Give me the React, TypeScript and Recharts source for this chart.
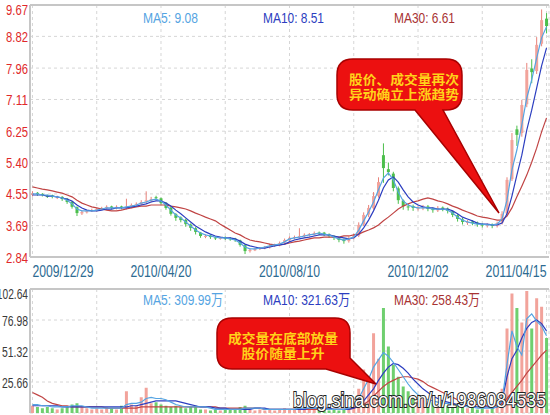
import React from "react";
import { Bar, CartesianGrid, Cell, ComposedChart, Line, ReferenceLine, XAxis, YAxis } from "recharts";

// tick labels / axes
const tickIndex = [0, 26, 52, 78, 104];
const dateLabels = ["2009/12/29", "2010/04/20", "2010/08/10", "2010/12/02", "2011/04/15"];
const gridIndex = [0, 13, 26, 39, 52, 65, 78, 91, 104];
const priceTicks = [2.84, 3.69, 4.55, 5.4, 6.25, 7.11, 7.96, 8.82, 9.67];
const volTicks = [0, 25.66, 51.32, 76.98, 102.64];

// daily k-line (sampled)
const open = [4.52,4.58,4.55,4.50,4.51,4.45,4.47,4.42,4.34,4.19, 4.02,4.05,4.10,4.10,4.15,4.16,4.21,4.16,4.21,4.16, 4.19,4.26,4.27,4.34,4.36,4.46,4.43,4.31,4.18,4.00, 3.91,3.85,3.72,3.62,3.50,3.40,3.42,3.37,3.35,3.37, 3.35,3.34,3.29,3.16,3.00,3.02,3.07,3.09,3.10,3.15, 3.16,3.23,3.29,3.37,3.39,3.40,3.45,3.45,3.50,3.50, 3.45,3.40,3.35,3.31,3.27,3.35,3.42,3.72,3.99,4.16, 4.50,5.60,5.22,5.10,4.70,4.37,4.21,4.22,4.16,4.16, 4.21,4.15,4.10,4.18,4.15,4.08,3.97,3.86,3.78,3.80, 3.77,3.72,3.70,3.72,3.68,3.77,4.02,4.95,6.30,6.20, 6.98,7.95,7.88,8.62,9.30];
const high = [4.62,4.60,4.57,4.53,4.53,4.50,4.49,4.44,4.36,4.21, 4.10,4.12,4.15,4.17,4.20,4.24,4.23,4.24,4.23,4.42, 4.29,4.32,4.38,4.62,4.47,4.50,4.45,4.33,4.20,4.03, 3.94,3.88,3.75,3.65,3.52,3.45,3.44,3.40,3.39,3.40, 3.38,3.36,3.31,3.18,3.07,3.09,3.11,3.14,3.20,3.20, 3.26,3.34,3.40,3.42,3.62,3.48,3.49,3.53,3.53,3.52, 3.48,3.43,3.38,3.34,3.40,3.47,3.78,4.05,4.25,4.60, 5.00,5.92,5.40,5.15,4.75,4.40,4.28,4.26,4.22,4.25, 4.25,4.18,4.22,4.21,4.18,4.10,4.00,3.90,3.84,3.84, 3.80,3.76,3.75,3.75,3.80,4.08,5.00,6.20,6.40,7.10, 8.10,8.20,8.80,9.55,9.45];
const low = [4.48,4.50,4.48,4.44,4.43,4.41,4.36,4.28,4.15,3.95, 3.98,4.02,4.06,4.07,4.12,4.13,4.13,4.13,4.13,4.13, 4.16,4.22,4.24,4.30,4.32,4.38,4.26,4.12,3.96,3.82, 3.78,3.66,3.55,3.45,3.36,3.35,3.33,3.30,3.31,3.30, 3.28,3.25,3.12,2.92,2.96,3.00,3.03,3.05,3.07,3.11, 3.13,3.20,3.26,3.32,3.35,3.37,3.40,3.42,3.44,3.41, 3.36,3.30,3.24,3.20,3.23,3.32,3.38,3.68,3.92,4.12, 4.45,4.85,5.05,4.62,4.28,4.12,4.10,4.09,4.10,4.11, 4.08,4.04,4.06,4.08,4.02,3.92,3.80,3.72,3.71,3.70, 3.66,3.64,3.64,3.62,3.64,3.72,3.98,4.90,5.85,6.10, 6.90,7.55,7.80,8.55,8.90];
const close = [4.57,4.55,4.52,4.49,4.47,4.47,4.41,4.33,4.20,4.03, 4.06,4.09,4.11,4.14,4.17,4.20,4.17,4.20,4.17,4.20, 4.25,4.28,4.33,4.38,4.41,4.44,4.30,4.17,4.01,3.90, 3.84,3.73,3.63,3.52,3.41,3.41,3.38,3.36,3.36,3.36, 3.33,3.30,3.17,3.00,3.03,3.06,3.08,3.11,3.14,3.17, 3.22,3.30,3.36,3.38,3.41,3.44,3.46,3.49,3.49,3.46, 3.41,3.36,3.30,3.27,3.36,3.41,3.71,3.98,4.17,4.49, 4.87,5.25,5.14,4.71,4.38,4.22,4.20,4.17,4.17,4.20, 4.14,4.11,4.17,4.14,4.09,3.98,3.87,3.79,3.79,3.76, 3.73,3.71,3.71,3.68,3.76,4.01,4.93,6.01,6.15,6.96, 7.91,7.85,8.59,9.26,9.10];

const ma5 = [4.55,4.55,4.52,4.52,4.49,4.47,4.44,4.38,4.28,4.14, 4.09,4.09,4.09,4.11,4.14,4.17,4.17,4.17,4.17,4.20, 4.22,4.25,4.30,4.33,4.38,4.41,4.36,4.25,4.11,3.98, 3.90,3.79,3.68,3.57,3.49,3.44,3.41,3.38,3.36,3.36, 3.33,3.30,3.22,3.11,3.06,3.06,3.08,3.11,3.14,3.17, 3.19,3.25,3.33,3.36,3.38,3.41,3.44,3.46,3.49,3.46, 3.44,3.38,3.33,3.30,3.33,3.38,3.57,3.82,4.06,4.33, 4.66,4.98,5.12,4.93,4.60,4.36,4.25,4.20,4.17,4.17, 4.17,4.14,4.14,4.14,4.11,4.03,3.92,3.84,3.79,3.76, 3.73,3.73,3.71,3.71,3.73,3.87,4.38,5.20,5.74,6.42, 7.15,7.64,8.23,8.78,9.08];
const ma10 = [4.52,4.52,4.52,4.49,4.49,4.47,4.44,4.41,4.36,4.25, 4.17,4.11,4.09,4.09,4.11,4.14,4.14,4.17,4.17,4.17, 4.20,4.22,4.25,4.28,4.33,4.36,4.36,4.30,4.22,4.11, 4.01,3.90,3.79,3.68,3.60,3.52,3.46,3.41,3.38,3.36, 3.36,3.33,3.27,3.19,3.14,3.11,3.08,3.08,3.11,3.14, 3.17,3.19,3.25,3.30,3.33,3.36,3.38,3.41,3.44,3.44, 3.44,3.41,3.38,3.36,3.33,3.36,3.46,3.63,3.84,4.09, 4.38,4.71,4.93,5.01,4.87,4.66,4.47,4.33,4.25,4.20, 4.17,4.17,4.14,4.14,4.14,4.09,4.01,3.92,3.87,3.82, 3.76,3.73,3.73,3.71,3.71,3.76,4.01,4.49,5.06,5.60, 6.28,6.82,7.42,8.02,8.51];
const ma30 = [4.74,4.71,4.68,4.66,4.63,4.60,4.57,4.52,4.47,4.38, 4.30,4.25,4.20,4.17,4.14,4.11,4.09,4.09,4.11,4.14, 4.17,4.20,4.22,4.22,4.25,4.25,4.25,4.25,4.22,4.20, 4.17,4.14,4.09,4.03,3.98,3.92,3.87,3.82,3.73,3.65, 3.57,3.49,3.44,3.36,3.30,3.27,3.25,3.22,3.19,3.17, 3.17,3.19,3.22,3.25,3.27,3.30,3.33,3.36,3.36,3.38, 3.38,3.38,3.38,3.41,3.41,3.44,3.46,3.52,3.57,3.63, 3.71,3.82,3.92,4.03,4.14,4.22,4.28,4.33,4.36,4.41, 4.44,4.41,4.36,4.33,4.28,4.22,4.17,4.11,4.06,4.01, 3.95,3.92,3.90,3.87,3.84,3.84,3.95,4.17,4.47,4.76, 5.06,5.41,5.79,6.23,6.61];

// volume (万)
const vol = [6,5,4,5,4,3,4,5,7,8, 5,4,3,4,3,5,4,3,6,18, 7,6,13,21,8,9,7,6,5,6, 5,4,5,6,3,3,2,3,2,3, 3,3,5,6,3,2,3,2,3,2, 3,4,3,3,6,4,3,3,4,3, 2,3,2,3,5,8,20,36,28,66, 45,87,55,40,30,22,18,14,10,12, 8,9,7,10,6,8,6,5,4,5, 3,4,3,4,6,20,70,99,87,75, 101,70,95,88,62];
const vma5 = [7,7,6,6,5,5,5,5,6,6, 6,5,4,4,4,4,4,4,4,7, 8,8,9,12,13,12,12,11,9,7, 6,5,5,5,5,5,4,3,3,3, 3,3,3,4,4,4,4,3,3,3, 3,3,3,3,4,4,4,4,4,3, 3,3,3,3,4,7,12,20,28,38, 44,50,47,42,36,30,24,19,15,13, 11,10,9,8,8,7,7,6,5,5, 4,4,4,4,5,10,40,68,55,48, 78,82,76,72,64];
const vma10 = [6,6,6,6,6,6,5,5,5,5, 5,5,5,5,5,5,5,5,5,5, 6,6,7,8,9,10,10,10,10,10, 9,8,7,6,5,5,5,4,4,4, 3,3,3,3,3,4,4,4,3,3, 3,3,3,3,3,3,4,4,4,4, 4,3,3,3,3,4,6,10,15,20, 27,33,38,41,40,37,33,28,24,20, 17,14,12,10,9,8,7,7,6,6, 5,5,5,4,5,10,30,45,52,62, 70,75,77,74,68];
const vma30 = [17,15,13,10,8,7,6,6,5,5, 5,5,5,5,5,4,4,4,4,4, 4,4,5,5,5,5,5,5,5,5, 5,5,5,5,5,5,5,5,4,4, 4,4,4,4,4,4,4,3,3,3, 3,3,3,3,3,3,3,3,3,3, 3,3,3,3,3,4,5,7,10,14, 18,22,25,27,29,30,30,29,28,26, 23,21,19,17,15,13,11,9,8,7, 7,6,6,6,6,8,12,17,22,27, 33,38,43,48,52];

const rows = close.map((c, i) => ({
  i,
  open: open[i],
  high: high[i],
  low: low[i],
  close: c,
  ma5: ma5[i],
  ma10: ma10[i],
  ma30: ma30[i],
  vol: vol[i],
  vma5: vma5[i],
  vma10: vma10[i],
  vma30: vma30[i],
}));

const NUM = "'Liberation Sans', Arial, sans-serif";
const CJK = "'Noto Sans CJK SC', 'Noto Sans', sans-serif";
const FRAME = "#c6c6c6";
const GRID = "#d6d6d6";
const UP = "#f2a39b";
const DOWN = "#4cbf4c";
const C_MA5 = "#55a4e2";
const C_MA10 = "#2c3ec0";
const C_MA30 = "#c04444";

function Candle(props: any) {
  const { x, y, width, height, payload } = props;
  if (x == null || y == null) return <g />;
  const top = Math.min(y, y + height);
  const h = Math.abs(height);
  const span = payload.high - payload.low || 1;
  const py = (v: number) => top + ((payload.high - v) / span) * h;
  const up = payload.close >= payload.open;
  const cx = x + width / 2;
  const yo = py(payload.open);
  const yc = py(payload.close);
  return (
    <g>
      <line x1={cx} x2={cx} y1={top} y2={top + h} stroke={up ? "#e8827a" : DOWN} strokeWidth={1} />
      <rect x={cx - 1.5} y={Math.min(yo, yc)} width={3} height={Math.max(1, Math.abs(yo - yc))} fill={up ? UP : DOWN} />
    </g>
  );
}

function PriceTick({ y, payload }: any) {
  return (
    <text x={28} y={y} dy={5.5} textAnchor="end" fill="#e0282a" fontSize={15} fontFamily={NUM}
      textLength={22} lengthAdjust="spacingAndGlyphs">
      {Number(payload.value).toFixed(2)}
    </text>
  );
}

function VolTick({ y, payload }: any) {
  const v = Number(payload.value);
  const label = v === 0 ? "万" : v.toFixed(2);
  const len = v === 0 ? 12 : label.length * 5.2;
  return (
    <text x={28} y={y} dy={5.5} textAnchor="end" fill="#3a3a3a" fontSize={15} fontFamily={v === 0 ? CJK : NUM}
      textLength={len} lengthAdjust="spacingAndGlyphs">
      {label}
    </text>
  );
}

function DateTick({ x, payload }: any) {
  const k = tickIndex.indexOf(payload.value);
  if (k < 0) return <g />;
  const anchor = k === 0 ? "start" : k === tickIndex.length - 1 ? "end" : "middle";
  return (
    <text x={x} y={277} textAnchor={anchor} fill="#2d6b92" fontSize={16} fontFamily={NUM}
      textLength={61} lengthAdjust="spacingAndGlyphs">
      {dateLabels[k]}
    </text>
  );
}

function Label({ x, y, len, color, children }: any) {
  return (
    <text x={x} y={y} fill={color} fontSize={15} fontFamily={`${NUM}, ${CJK}`}
      textLength={len} lengthAdjust="spacingAndGlyphs">
      {children}
    </text>
  );
}

function Note({ x, y, len, children }: any) {
  return (
    <text x={x} y={y} textAnchor="middle" fill="#ffd21a" fontSize={13} fontWeight="bold" fontFamily={CJK}
      textLength={len} lengthAdjust="spacingAndGlyphs">
      {children}
    </text>
  );
}

export default function App() {
  return (
    <div style={{ position: "absolute", left: 0, top: 0, width: 550, height: 415, overflow: "hidden", background: "#fff" }}>
      <div style={{ position: "absolute", left: 0, top: 0 }}>
        <ComposedChart width={550} height={282} data={rows} margin={{ top: 5, right: 1, bottom: 0, left: 0 }}>
          <CartesianGrid stroke={GRID} strokeDasharray="3 3" />
          <XAxis dataKey="i" type="category" ticks={gridIndex} interval={0} tick={<DateTick />} tickLine={false}
            axisLine={{ stroke: FRAME, strokeWidth: 2 }} height={25} />
          <YAxis domain={[2.84, 9.67]} ticks={priceTicks} tick={<PriceTick />} tickLine={false}
            axisLine={{ stroke: FRAME, strokeWidth: 2 }} width={30} allowDataOverflow />
          <ReferenceLine y={9.67} stroke={FRAME} strokeWidth={2} />
          <Bar dataKey={(d: any) => [d.low, d.high]} shape={<Candle />} barSize={3} isAnimationActive={false} />
          <Line dataKey="ma30" stroke={C_MA30} strokeWidth={1.2} dot={false} isAnimationActive={false} />
          <Line dataKey="ma10" stroke={C_MA10} strokeWidth={1.2} dot={false} isAnimationActive={false} />
          <Line dataKey="ma5" stroke={C_MA5} strokeWidth={1.2} dot={false} isAnimationActive={false} />
        </ComposedChart>
      </div>
      <div style={{ position: "absolute", left: 0, top: 284 }}>
        <ComposedChart width={550} height={131} data={rows} margin={{ top: 5, right: 1, bottom: 2, left: 0 }}>
          <CartesianGrid stroke={GRID} strokeDasharray="3 3" />
          <XAxis dataKey="i" type="category" ticks={gridIndex} interval={0} hide />
          <YAxis domain={[0, 102.64]} ticks={volTicks} tick={<VolTick />} tickLine={false}
            axisLine={{ stroke: FRAME, strokeWidth: 2 }} width={30} allowDataOverflow />
          <ReferenceLine y={102.64} stroke={FRAME} strokeWidth={2} />
          <Bar dataKey="vol" barSize={3} isAnimationActive={false}>
            {rows.map((r) => (
              <Cell key={r.i} fill={r.close >= r.open ? UP : "#6fcf6f"} />
            ))}
          </Bar>
          <Line dataKey="vma30" stroke={C_MA30} strokeWidth={1.2} dot={false} isAnimationActive={false} />
          <Line dataKey="vma10" stroke={C_MA10} strokeWidth={1.2} dot={false} isAnimationActive={false} />
          <Line dataKey="vma5" stroke={C_MA5} strokeWidth={1.2} dot={false} isAnimationActive={false} />
        </ComposedChart>
      </div>
      <svg width={550} height={415} style={{ position: "absolute", left: 0, top: 0, pointerEvents: "none" }}>
        <Label x={143} y={23} len={55} color={C_MA5}>MA5: 9.08</Label>
        <Label x={263} y={23} len={61} color={C_MA10}>MA10: 8.51</Label>
        <Label x={394} y={23} len={61} color="#a83232">MA30: 6.61</Label>
        <Label x={143} y={305} len={80} color={C_MA5}>MA5: 309.99万</Label>
        <Label x={263} y={305} len={87} color={C_MA10}>MA10: 321.63万</Label>
        <Label x={394} y={305} len={86} color="#a83232">MA30: 258.43万</Label>

        <path d="M 353 59 H 446 Q 462 59 462 75 V 94 Q 462 110 446 110 H 443 L 499 213 L 415 110 H 353 Q 337 110 337 94 V 75 Q 337 59 353 59 Z"
          fill="#ec1010" stroke="#a80000" strokeWidth={1.5} />
        <Note x={404} y={84} len={110}>股价、成交量再次</Note>
        <Note x={404} y={99} len={110}>异动确立上涨趋势</Note>

        <path d="M 232 318 H 335 Q 350 318 350 333 V 358 L 376 384 L 326 369 H 232 Q 217 369 217 354 V 333 Q 217 318 232 318 Z"
          fill="#ec1010" stroke="#a80000" strokeWidth={1.5} />
        <Note x={283} y={343} len={110}>成交量在底部放量</Note>
        <Note x={283} y={358} len={83}>股价随量上升</Note>

        <text x={293} y={407} fill="#fff" stroke="#222" strokeWidth={2} paintOrder="stroke" fontSize={21} fontFamily={NUM}
          textLength={253} lengthAdjust="spacingAndGlyphs">blog.sina.com.cn/u/1986084535</text>
      </svg>
    </div>
  );
}
